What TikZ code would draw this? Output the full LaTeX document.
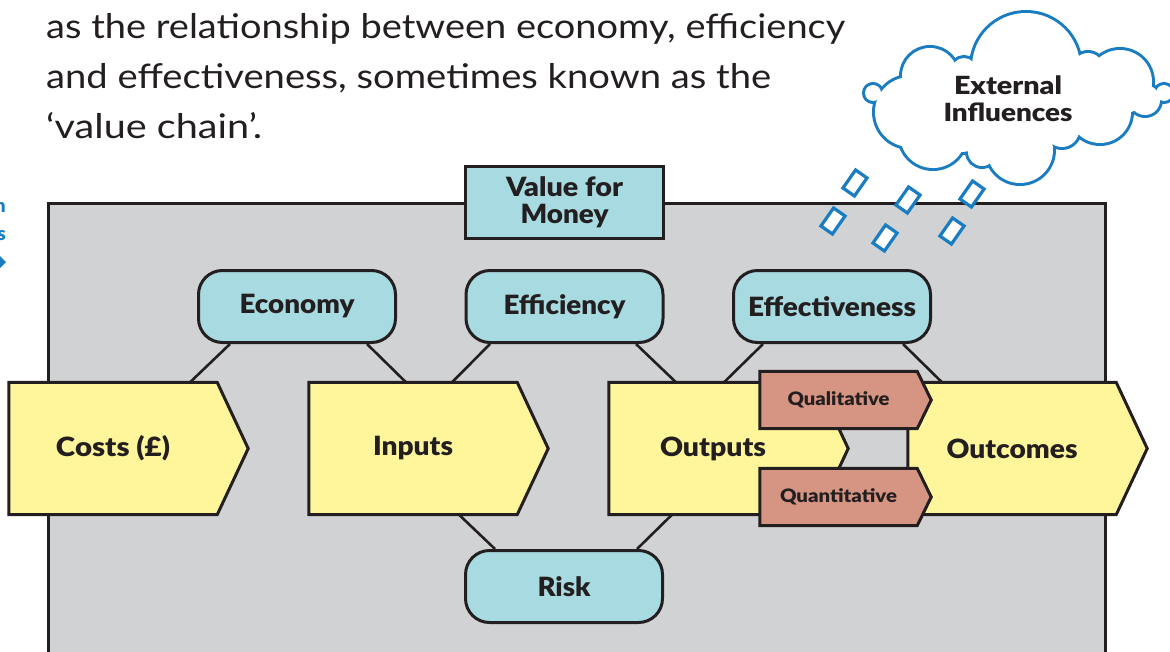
\documentclass[tikz,border=0pt]{standalone}
\usepackage{fontspec}
\usepackage{graphicx}
\setmainfont{Lato}
\IfFontExistsTF{Lato Black}{\newfontfamily\heavyfont{Lato Black}}{%
  \IfFontExistsTF{Lato Heavy}{\newfontfamily\heavyfont{Lato Heavy}}{%
    \newfontfamily\heavyfam{Lato}[BoldFeatures={FakeBold=2.2}]%
    \newcommand{\heavyfont}{\heavyfam\bfseries}}}
\usetikzlibrary{calc}
\definecolor{ink}{HTML}{231F20}
\definecolor{panelgray}{HTML}{D1D2D4}
\definecolor{boxcyan}{HTML}{A8DAE1}
\definecolor{boxyellow}{HTML}{FFF59A}
\definecolor{boxsalmon}{HTML}{D69583}
\definecolor{cloudblue}{HTML}{1A7DC2}
\newcommand{\fitw}[2]{\resizebox{#1}{\height}{#2}}
\pgfdeclarelayer{back}
\pgfdeclarelayer{shapes}
\pgfsetlayers{back,shapes,main}
\begin{document}
\begin{tikzpicture}[x=1pt,y=-1pt,
  lbl/.style={font=\heavyfont\fontsize{26.5}{27}\selectfont, text=ink},
  small/.style={font=\heavyfont\fontsize{18.5}{19}\selectfont, text=ink},
  rbox/.style={draw=ink, line width=3pt, fill=boxcyan, rounded corners=24pt,
    minimum width=197pt, minimum height=72pt, inner sep=0pt, lbl},
  vbox/.style={draw=ink, line width=3pt, fill=boxcyan,
    minimum width=198pt, minimum height=72pt, inner sep=0pt, lbl, align=center},
  body/.style={minimum width=208pt, minimum height=132pt, inner sep=0pt, lbl},
  tagbody/.style={minimum width=157pt, minimum height=57pt, inner sep=0pt, small},
  chev/.style={draw=ink, line width=3pt, fill=boxyellow, line join=miter},
  tagchev/.style={draw=ink, line width=3pt, fill=boxsalmon, line join=miter},
  link/.style={draw=ink, line width=2.6pt},
  drop/.style={draw=cloudblue, line width=3.2pt, fill=white, minimum width=22pt,
    minimum height=14pt, inner sep=0pt},
  prose/.style={anchor=base west, inner sep=0pt, text=ink, font=\fontsize{34}{36}\selectfont},
  margintext/.style={anchor=base east, inner sep=0pt, text=cloudblue, font=\heavyfont\fontsize{19}{20}\selectfont}
]
\useasboundingbox (0,0) rectangle (1170,651);

\begin{pgfonlayer}{back}
  \fill[white] (0,0) rectangle (1170,651);
  \draw[ink, line width=3pt, fill=panelgray] (48,203) rectangle (1105,680);
\end{pgfonlayer}

% prose
\node[prose] (l1) at (46,38) {\fitw{799pt}{as the relationship between economy, efficiency}};
\node[prose] (l2) at (46,88) {\fitw{725pt}{and effectiveness, sometimes known as the}};
\node[prose] (l3) at (46,138) {\fitw{216pt}{‘value chain’.}};

% margin fragments
\node[margintext] (m1) at (6,212) {n};
\node[margintext] (m2) at (6,240) {s};
\fill[cloudblue] (0,256) -- (6,262) -- (0,268) -- cycle;

% value for money
\node[vbox] (vfm) at (564.5,202.5) {\fitw{117pt}{Value for}\\\fitw{88pt}{Money}};

% measures
\node[rbox] (eco) at (297,306.5) {\fitw{115pt}{Economy}};
\node[rbox] (effi) at (564.5,306.5) {\fitw{122pt}{Efficiency}};
\node[rbox] (effv) at (832,306.5) {\fitw{168pt}{Effectiveness}};
\node[rbox] (risk) at (564,586.5) {\fitw{53pt}{Risk}};

% chain bodies
\node[body] (costs) at (113,448.5) {\fitw{114pt}{Costs (£)}};
\node[body] (inputs) at (413,448.5) {\fitw{80pt}{Inputs}};
\node[body] (outputs) at (713,448.5) {\fitw{106pt}{Outputs}};
\node[body] (outcomes) at (1012,448.5) {\fitw{131pt}{Outcomes}};
\node[tagbody] (qual) at (838.5,400) {\fitw{102pt}{Qualitative}};
\node[tagbody] (quant) at (838.5,497) {\fitw{117pt}{Quantitative}};

\begin{pgfonlayer}{shapes}
  \draw[link] ([xshift=-67pt]eco.south) -- ([xshift=77pt]costs.north);
  \draw[link] ([xshift=70pt]eco.south) -- ([xshift=-7pt]inputs.north);
  \draw[link] ([xshift=-74.5pt]effi.south) -- ([xshift=39pt]inputs.north);
  \draw[link] ([xshift=71.5pt]effi.south) -- ([xshift=-37pt]outputs.north);
  \draw[link] ([xshift=-69pt]effv.south) -- ([xshift=11pt]outputs.north);
  \draw[link] ([xshift=71pt]effv.south) -- ([xshift=-70pt]outcomes.north);
  \draw[link] ([xshift=46pt]inputs.south) -- ([xshift=-69pt]risk.north);
  \draw[link] ([xshift=-41pt]outputs.south) -- ([xshift=73pt]risk.north);
  \foreach \n in {costs,inputs,outputs,outcomes}
    \draw[chev] (\n.north west) -- (\n.north east) -- ([xshift=31pt]\n.east)
      -- (\n.south east) -- (\n.south west) -- cycle;
  \foreach \n in {qual,quant}
    \draw[tagchev] (\n.north west) -- (\n.north east) -- ([xshift=14pt]\n.east)
      -- (\n.south east) -- (\n.south west) -- cycle;
\end{pgfonlayer}

% cloud: union of lobes, outer half of each stroke remains visible
\def\cloudlobes{1026/67/54, 930/76/28, 910/112/35, 964/70/12, 1120/82/32,
  1088/68/15, 1145/100/15, 1100/112/31, 1020/150/33, 1062/130/17, 982/152/14,
  933/135/33, 1020/105/48, 960/110/42, 1080/100/35, 990/135/16, 873/93/8, 1164/93/8}
\foreach \cx/\cy/\r in \cloudlobes
  \draw[cloudblue, line width=6pt] (\cx,\cy) circle[radius=\r];
\foreach \cx/\cy/\r in \cloudlobes
  \fill[white] (\cx,\cy) circle[radius=\r];
\node[align=center, text=ink, font=\heavyfont\fontsize{25}{27}\selectfont] (ext) at (1008,99)
  {\fitw{108pt}{External}\\\fitw{129pt}{Influences}};

% drops
\node[drop, rotate=55] (d1) at (855,183) {};
\node[drop, rotate=55] (d2) at (833,221) {};
\node[drop, rotate=55] (d3) at (908,200) {};
\node[drop, rotate=55] (d4) at (885,238) {};
\node[drop, rotate=55] (d5) at (972,194) {};
\node[drop, rotate=55] (d6) at (952,231) {};
\end{tikzpicture}
\end{document}
